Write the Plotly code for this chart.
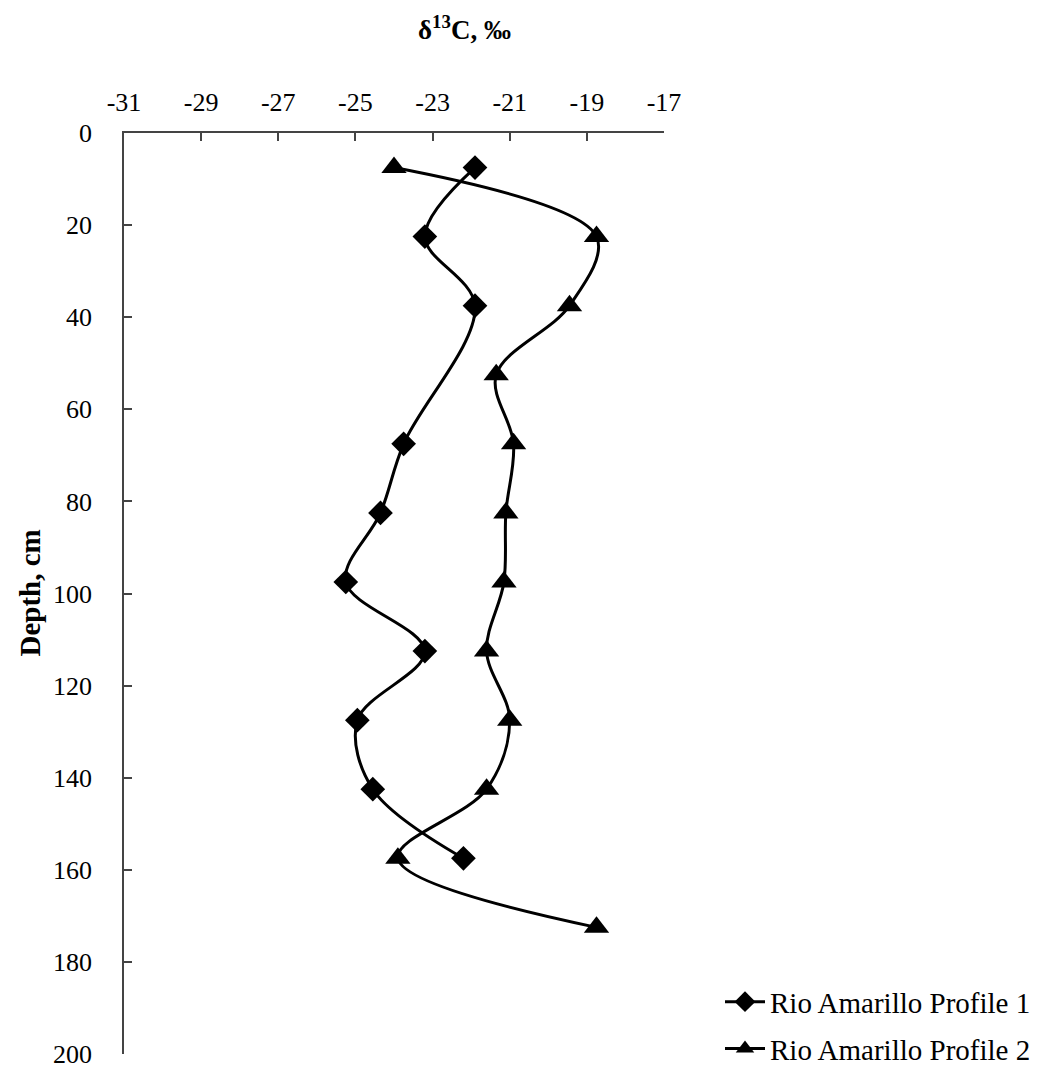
import plotly.graph_objects as go

# Data
depth_p1 = [7.5, 22.5, 37.5, 67.5, 82.5, 97.5, 112.5, 127.5, 142.5, 157.5]
d13c_p1 = [-21.9, -23.2, -21.9, -23.75, -24.35, -25.25, -23.2, -24.95, -24.55, -22.2]

depth_p2 = [7.5, 22.5, 37.5, 52.5, 67.5, 82.5, 97.5, 112.5, 127.5, 142.5, 157.5, 172.5]
d13c_p2 = [-24.0, -18.75, -19.45, -21.35, -20.9, -21.1, -21.15, -21.6, -21.0, -21.6, -23.9, -18.75]

x_ticks = [-31, -29, -27, -25, -23, -21, -19, -17]
y_ticks = [0, 20, 40, 60, 80, 100, 120, 140, 160, 180, 200]

FONT = "Liberation Serif"
AXCOL = "#444444"

L, R, T, B = 116, 385, 125, 16
W, H = 1041, 1078
PW, PH = W - L - R, H - T - B

fig = go.Figure()
fig.add_trace(go.Scatter(
    x=d13c_p1, y=depth_p1, name="Rio Amarillo Profile 1",
    mode="lines+markers", legendgroup="a",
    line=dict(color="black", width=3, shape="spline", smoothing=1),
    marker=dict(symbol="diamond", size=19, color="black"),
))
fig.add_trace(go.Scatter(
    x=d13c_p2, y=depth_p2, name="Rio Amarillo Profile 2",
    mode="lines+markers", legendgroup="b",
    line=dict(color="black", width=3, shape="spline", smoothing=1),
    marker=dict(symbol="triangle-up", size=22, color="black"),
))

fig.update_layout(
    width=W, height=H, autosize=False,
    margin=dict(l=L, r=R, t=T, b=B),
    paper_bgcolor="white", plot_bgcolor="white",
    font=dict(family=FONT, size=26, color="black"),
    showlegend=True,
    legend=dict(
        x=(712 - L) / PW, xanchor="left",
        y=1 - (983 - T) / PH, yanchor="top",
        font=dict(family=FONT, size=29, color="black"),
        bgcolor="rgba(0,0,0,0)", borderwidth=0,
        traceorder="grouped", tracegroupgap=6,
        itemwidth=40,
    ),
    xaxis=dict(
        side="top", range=[-31, -17], tickvals=x_ticks,
        ticktext=[str(v) for v in x_ticks],
        showline=True, linecolor=AXCOL, linewidth=1.5,
        ticks="inside", ticklen=8, tickwidth=1.5, tickcolor=AXCOL,
        showgrid=False, zeroline=False, mirror=False,
        tickfont=dict(family=FONT, size=26, color="black"),
        ticklabelstandoff=10,
    ),
    yaxis=dict(
        range=[200, 0], tickvals=y_ticks,
        ticktext=[str(v) for v in y_ticks],
        showline=True, linecolor=AXCOL, linewidth=1.5,
        ticks="inside", ticklen=8, tickwidth=1.5, tickcolor=AXCOL,
        showgrid=False, zeroline=False, mirror=False,
        tickfont=dict(family=FONT, size=26, color="black"),
        ticklabelstandoff=25,
    ),
    annotations=[
        dict(text="<b>δ<sup>13</sup>C, ‰</b>", xref="paper", yref="paper",
             x=(456 - L) / PW, y=1 + (T - 18) / PH, xanchor="center", yanchor="middle",
             showarrow=False, font=dict(family=FONT, size=27, color="black")),
        dict(text="<b>Depth, cm</b>", xref="paper", yref="paper",
             x=(21 - L) / PW, y=0.5, xanchor="center", yanchor="middle",
             textangle=-90, showarrow=False,
             font=dict(family=FONT, size=29, color="black")),
    ],
)

fig.write_html("out.html")
